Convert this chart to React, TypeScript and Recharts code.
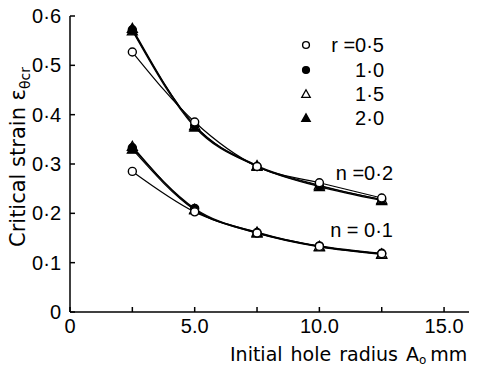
import { LineChart, Line, XAxis, YAxis } from 'recharts';

// initial hole radius (mm) at which points were measured
const radii = [2.5, 5, 7.5, 10, 12.5];

// critical strain, n = 0.2
const n2r05 = [0.527, 0.385, 0.295, 0.262, 0.231];
const n2r10 = [0.572, 0.378, 0.295, 0.256, 0.228];
const n2r15 = [0.575, 0.378, 0.297, 0.257, 0.228];
const n2r20 = [0.57, 0.375, 0.295, 0.254, 0.226];

// critical strain, n = 0.1
const n1r05 = [0.285, 0.203, 0.16, 0.133, 0.118];
const n1r10 = [0.333, 0.21, 0.161, 0.134, 0.119];
const n1r15 = [0.336, 0.208, 0.162, 0.133, 0.118];
const n1r20 = [0.33, 0.207, 0.16, 0.132, 0.117];

const xTicks = [0, 2.5, 5, 7.5, 10, 12.5, 15];
const yTicks = [0, 0.1, 0.2, 0.3, 0.4, 0.5, 0.6];
const legendLabels = ['r =0·5', '1·0', '1·5', '2·0'];

const toData = (vals: number[]) => radii.map((x, i) => ({ x, y: vals[i] }));

type Kind = 'oc' | 'fc' | 'ot' | 'ft';

function Marker({ cx, cy, kind, s = 1 }: { cx: number; cy: number; kind: Kind; s?: number }) {
  if (kind === 'oc' || kind === 'fc') {
    return (
      <circle cx={cx} cy={cy} r={4 * s} fill={kind === 'fc' ? '#000' : '#fff'} stroke="#000" strokeWidth={1.4} />
    );
  }
  const pts = `${cx},${cy - 5 * s} ${cx - 5 * s},${cy + 4 * s} ${cx + 5 * s},${cy + 4 * s}`;
  return <polygon points={pts} fill={kind === 'ft' ? '#000' : '#fff'} stroke="#000" strokeWidth={1.3} />;
}

const dotFor = (kind: Kind) => (p: any) =>
  <Marker key={`${kind}-${p.index}-${p.cx}`} cx={p.cx} cy={p.cy} kind={kind} />;

// drawn from bottom to top: filled triangle first, open circle last
const series: { vals: number[]; kind: Kind }[] = [
  { vals: n2r20, kind: 'ft' },
  { vals: n2r15, kind: 'ot' },
  { vals: n2r10, kind: 'fc' },
  { vals: n2r05, kind: 'oc' },
  { vals: n1r20, kind: 'ft' },
  { vals: n1r15, kind: 'ot' },
  { vals: n1r10, kind: 'fc' },
  { vals: n1r05, kind: 'oc' },
];

const numFont = { fontSize: 20, fill: '#000', fontFamily: 'Liberation Sans' };
const titleFont = { fontSize: 21, fill: '#000', fontFamily: 'DejaVu Sans' };

export default function App() {
  return (
    <div style={{ position: 'absolute', left: 0, top: 0, width: 480, height: 372, background: '#fff' }}>
      <LineChart width={480} height={372} margin={{ top: 16, right: 11, bottom: 0, left: 0 }}>
        <XAxis
          dataKey="x"
          type="number"
          domain={[0, 16]}
          ticks={xTicks}
          interval={0}
          height={60}
          tickSize={-5}
          tickMargin={12}
          stroke="#000"
          strokeWidth={1.5}
          tick={numFont}
          tickFormatter={(v: number) => (v === 0 ? '0' : v % 5 === 0 ? v.toFixed(1) : '')}
        />
        <XAxis
          xAxisId="top"
          orientation="top"
          dataKey="x"
          type="number"
          domain={[0, 16]}
          ticks={xTicks}
          height={0}
          tickSize={-5}
          tick={false}
          stroke="#000"
          strokeWidth={1.5}
        />
        <YAxis
          type="number"
          domain={[0, 0.6]}
          ticks={yTicks}
          interval={0}
          width={70}
          tickSize={-5}
          tickMargin={14}
          stroke="#000"
          strokeWidth={1.5}
          tick={numFont}
          tickFormatter={(v: number) => (v === 0 ? '0' : v.toFixed(1).replace('.', '·'))}
        />
        <YAxis
          yAxisId="right"
          orientation="right"
          type="number"
          domain={[0, 0.6]}
          ticks={yTicks}
          width={0}
          tickSize={-5}
          tick={false}
          stroke="#000"
          strokeWidth={1.5}
        />
        {series.map((s, i) => (
          <Line
            key={i}
            data={toData(s.vals)}
            dataKey="y"
            type="monotone"
            stroke="#000"
            strokeWidth={1.2}
            dot={dotFor(s.kind)}
            activeDot={false}
            isAnimationActive={false}
          />
        ))}
      </LineChart>

      <svg width={480} height={372} style={{ position: 'absolute', left: 0, top: 0, pointerEvents: 'none' }}>
        {/* legend */}
        {(['oc', 'fc', 'ot', 'ft'] as Kind[]).map((k, i) => (
          <g key={k}>
            <Marker cx={306} cy={[45, 70, 94, 118][i]} kind={k} s={0.85} />
            <text x={384} y={[45, 70, 94, 118][i] + 7} textAnchor="end" {...numFont}>
              {legendLabels[i]}
            </text>
          </g>
        ))}
        <text x={393} y={180} textAnchor="end" {...numFont}>n =0·2</text>
        <text x={393} y={237} textAnchor="end" {...numFont}>n = 0·1</text>

        {/* axis titles */}
        <text transform="translate(25,247) rotate(-90)" {...titleFont}>
          Critical strain ε<tspan fontSize={14} dy={5}>θcr</tspan>
        </text>
        <text x={230} y={361} {...titleFont} fontSize={19}>
          Initial<tspan dx={8}>hole</tspan>
          <tspan dx={8}>radius</tspan>
          <tspan dx={8}>A</tspan>
          <tspan fontSize={12} dy={3}>o</tspan>
          <tspan dy={-3} dx={4}>mm</tspan>
        </text>
      </svg>
    </div>
  );
}
